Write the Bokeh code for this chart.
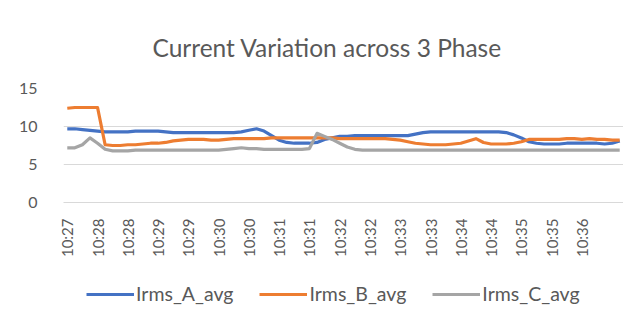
import math
from bokeh.plotting import figure
from bokeh.layouts import column
from bokeh.models import Range1d, FixedTicker, Legend, LegendItem, ColumnDataSource
from bokeh.embed import file_html
from bokeh.resources import INLINE

tick_labels = ["10:27", "10:28", "10:28", "10:29", "10:29", "10:30", "10:30", "10:31", "10:31",
               "10:32", "10:32", "10:33", "10:33", "10:34", "10:34", "10:35", "10:35", "10:36"]
label_step = 4

irms_a = [9.7, 9.7, 9.6, 9.5, 9.4, 9.3, 9.3, 9.3, 9.3, 9.4,
          9.4, 9.4, 9.4, 9.3, 9.2, 9.2, 9.2, 9.2, 9.2, 9.2,
          9.2, 9.2, 9.2, 9.3, 9.5, 9.7, 9.4, 8.8, 8.2, 7.9,
          7.8, 7.8, 7.8, 7.9, 8.3, 8.5, 8.7, 8.7, 8.8, 8.8,
          8.8, 8.8, 8.8, 8.8, 8.8, 8.8, 9.0, 9.2, 9.3, 9.3,
          9.3, 9.3, 9.3, 9.3, 9.3, 9.3, 9.3, 9.3, 9.2, 8.9,
          8.5, 8.0, 7.8, 7.7, 7.7, 7.7, 7.8, 7.8, 7.8, 7.8,
          7.8, 7.7, 7.8, 8.1]
irms_b = [12.4, 12.5, 12.5, 12.5, 12.5, 7.6, 7.5, 7.5, 7.6, 7.6,
          7.7, 7.8, 7.8, 7.9, 8.1, 8.2, 8.3, 8.3, 8.3, 8.2,
          8.2, 8.3, 8.4, 8.4, 8.4, 8.4, 8.4, 8.5, 8.5, 8.5,
          8.5, 8.5, 8.5, 8.5, 8.5, 8.5, 8.4, 8.4, 8.4, 8.4,
          8.4, 8.4, 8.4, 8.3, 8.2, 8.0, 7.8, 7.7, 7.6, 7.6,
          7.6, 7.7, 7.8, 8.1, 8.4, 7.9, 7.7, 7.7, 7.7, 7.8,
          8.0, 8.3, 8.3, 8.3, 8.3, 8.3, 8.4, 8.4, 8.3, 8.4,
          8.3, 8.3, 8.2, 8.2]
irms_c = [7.2, 7.2, 7.6, 8.5, 7.8, 7.0, 6.8, 6.8, 6.8, 6.9,
          6.9, 6.9, 6.9, 6.9, 6.9, 6.9, 6.9, 6.9, 6.9, 6.9,
          6.9, 7.0, 7.1, 7.2, 7.1, 7.1, 7.0, 7.0, 7.0, 7.0,
          7.0, 7.0, 7.1, 9.1, 8.7, 8.3, 7.8, 7.3, 7.0, 6.9,
          6.9, 6.9, 6.9, 6.9, 6.9, 6.9, 6.9, 6.9, 6.9, 6.9,
          6.9, 6.9, 6.9, 6.9, 6.9, 6.9, 6.9, 6.9, 6.9, 6.9,
          6.9, 6.9, 6.9, 6.9, 6.9, 6.9, 6.9, 6.9, 6.9, 6.9,
          6.9, 6.9, 6.9, 6.9]
series_names = ["Irms_A_avg", "Irms_B_avg", "Irms_C_avg"]
colors = ["#4472C4", "#ED7D31", "#A5A5A5"]

n = len(irms_a)
idx = list(range(n))
source = ColumnDataSource(dict(x=idx, a=irms_a, b=irms_b, c=irms_c))

FONT = "Lato"
TXT = "#595959"

p = figure(frame_width=560, frame_height=114, output_backend="svg", toolbar_location=None,
           x_range=Range1d(-0.5, n - 0.5), y_range=Range1d(0, 15),
           min_border_left=63, min_border_right=0, min_border_top=88, min_border_bottom=63)
p.title.text = "Current Variation across 3 Phase"
p.title.align = "left"
p.title.offset = 89
p.title.text_font = FONT
p.title.text_font_size = "24.5px"
p.title.text_font_style = "normal"
p.title.text_color = TXT
p.title.standoff = 53

p.outline_line_color = None
p.background_fill_color = "white"
p.border_fill_color = "white"

for col, color in zip(["a", "b", "c"], colors):
    p.line("x", col, source=source, line_color=color, line_width=3.2, line_join="round")

# y axis
p.yaxis.ticker = FixedTicker(ticks=[0, 5, 10, 15])
p.yaxis.axis_line_color = None
p.yaxis.major_tick_line_color = None
p.yaxis.minor_tick_line_color = None
p.yaxis.major_label_text_font = FONT
p.yaxis.major_label_text_font_size = "16px"
p.yaxis.major_label_text_color = TXT
p.yaxis.major_label_standoff = 20
p.ygrid.grid_line_color = "#d9d9d9"
p.ygrid.ticker = FixedTicker(ticks=[0, 5, 10, 15])

# x axis
tick_pos = [i * label_step for i in range(len(tick_labels))]
p.xaxis.ticker = FixedTicker(ticks=tick_pos)
p.xaxis.major_label_overrides = {t: lab for t, lab in zip(tick_pos, tick_labels)}
p.xaxis.major_label_orientation = math.pi / 2
p.xaxis.axis_line_color = "#d9d9d9"
p.xaxis.major_tick_line_color = None
p.xaxis.minor_tick_line_color = None
p.xaxis.major_label_text_font = FONT
p.xaxis.major_label_text_font_size = "15px"
p.xaxis.major_label_text_color = TXT
p.xaxis.major_label_standoff = 10
p.xgrid.grid_line_color = None

# legend strip (separate figure so the legend is not clipped)
lg = figure(frame_width=560, frame_height=36, output_backend="svg", toolbar_location=None,
            x_range=Range1d(-0.5, n - 0.5), y_range=Range1d(100, 101),
            min_border_left=63, min_border_right=0, min_border_top=4, min_border_bottom=4)
lg.axis.visible = False
lg.grid.visible = False
lg.outline_line_color = None
lg_renderers = []
for col, color in zip(["a", "b", "c"], colors):
    lg_renderers.append(lg.line("x", col, source=source, line_color=color, line_width=3.2))

legend = Legend(items=[LegendItem(label=nm, renderers=[r]) for nm, r in zip(series_names, lg_renderers)],
                orientation="horizontal", location=(23, 0),
                label_text_font=FONT, label_text_font_size="19.5px", label_text_color=TXT,
                glyph_width=48, glyph_height=18, label_standoff=2, spacing=26,
                border_line_color=None, background_fill_alpha=0, padding=6, margin=0)
lg.add_layout(legend, "center")

layout = column(p, lg, spacing=0)
open("out.html", "w").write(file_html(layout, INLINE))
